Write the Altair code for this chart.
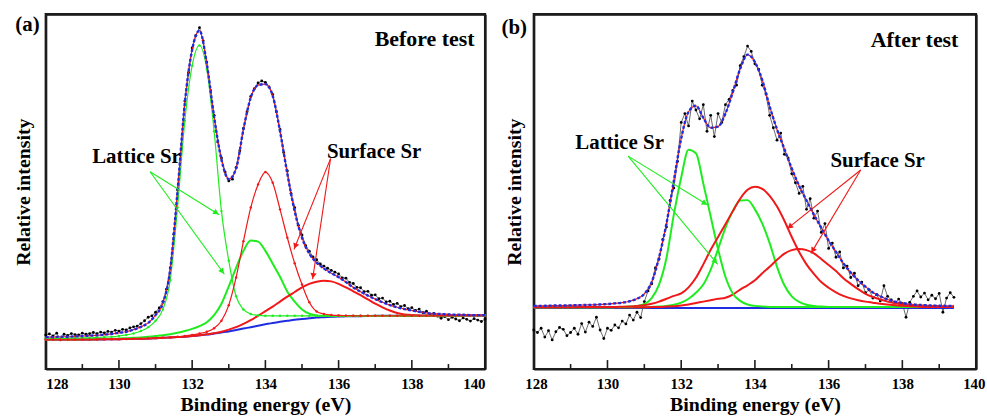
import math
import altair as alt
import pandas as pd

FONT = "Liberation Serif"
BLUE = "#1f2de0"
RED = "#f01818"
GREEN = "#1fec1f"
INK = "#1c1c1c"

# ---------------- panel (a): Before test ----------------
E_A = [128.0, 128.2, 128.4, 128.6, 128.8, 129.0, 129.2, 129.4, 129.6, 129.8,
       130.0, 130.2, 130.4, 130.6, 130.8, 131.0, 131.2, 131.4, 131.6, 131.8,
       132.0, 132.2, 132.4, 132.6, 132.8, 133.0, 133.2, 133.4, 133.6, 133.8,
       134.0, 134.2, 134.4, 134.6, 134.8, 135.0, 135.2, 135.4, 135.6, 135.8,
       136.0, 136.2, 136.4, 136.6, 136.8, 137.0, 137.2, 137.4, 137.6, 137.8,
       138.0, 138.2, 138.4, 138.6, 138.8, 139.0, 139.2, 139.4, 139.6, 139.8,
       140.0]
BASE_A = [8.3, 8.3, 8.3, 8.3, 8.3, 8.3, 8.3, 8.3, 8.35, 8.4,
          8.4, 8.45, 8.5, 8.55, 8.6, 8.7, 8.8, 8.9, 9.0, 9.1,
          9.3, 9.5, 9.7, 10.0, 10.3, 10.6, 11.0, 11.4, 11.8, 12.2,
          12.6, 13.0, 13.3, 13.6, 13.9, 14.1, 14.3, 14.5, 14.6, 14.7,
          14.8, 14.85, 14.9, 14.9, 14.95, 15.0, 15.0, 15.0, 15.0, 15.0,
          15.0, 15.0, 15.05, 15.05, 15.05, 15.05, 15.1, 15.1, 15.1, 15.1,
          15.1]
ENV_A = [9.0, 9.0, 9.1, 9.1, 9.2, 9.3, 9.4, 9.5, 9.7, 9.9,
         10.2, 10.5, 11.1, 11.9, 13.0, 15.2, 18.5, 28.0, 50.0, 75.0,
         90.0, 95.4, 86.0, 71.0, 59.0, 53.5, 56.5, 67.5, 76.5, 80.0,
         80.3, 77.0, 67.0, 55.0, 44.5, 37.0, 32.5, 30.0, 28.3, 27.0,
         25.9, 24.5, 23.0, 21.8, 20.7, 19.7, 18.8, 18.0, 17.4, 16.9,
         16.5, 16.1, 15.8, 15.6, 15.5, 15.4, 15.3, 15.3, 15.2, 15.2,
         15.2]
LAT1_A = [8.6, 8.6, 8.6, 8.7, 8.7, 8.8, 8.8, 8.9, 9.0, 9.1,
          9.3, 9.6, 10.0, 10.7, 11.8, 13.6, 16.8, 25.0, 45.5, 70.0,
          85.5, 91.2, 84.5, 67.0, 44.5, 30.5, 20.5, 16.8, 15.5, 15.1,
          15.0, 15.0, 15.0, 15.0, 15.0, 15.0, 15.0, 15.0, 15.0, 15.0,
          15.0, 15.0, 15.0, 15.0, 15.0, 15.0, 15.0, 15.0, 15.0, 15.0,
          15.0, 15.0, 15.0, 15.0, 15.05, 15.05, 15.05, 15.1, 15.1, 15.1,
          15.1]
LAT2_A = [8.3, 8.3, 8.3, 8.3, 8.3, 8.4, 8.4, 8.4, 8.5, 8.5,
          8.6, 8.7, 8.8, 8.9, 9.1, 9.3, 9.5, 9.8, 10.2, 10.7,
          11.3, 12.1, 13.2, 15.2, 18.4, 23.3, 28.5, 33.3, 36.2, 35.9,
          33.3, 29.7, 26.0, 21.8, 19.0, 16.8, 15.6, 15.1, 15.0, 14.95,
          14.95, 14.95, 14.95, 14.95, 14.95, 14.95, 14.95, 14.95, 14.95, 14.95,
          14.95, 14.95, 15.0, 15.0, 15.0, 15.0, 15.0, 15.05, 15.05, 15.05,
          15.05]
SUR1_A = [8.3, 8.3, 8.3, 8.3, 8.3, 8.3, 8.3, 8.35, 8.35, 8.4,
          8.4, 8.45, 8.5, 8.55, 8.6, 8.7, 8.8, 8.9, 9.1, 9.3,
          9.6, 10.0, 10.5, 11.5, 13.6, 18.0, 25.8, 36.0, 45.5, 52.0,
          55.5, 52.5, 45.0, 37.0, 29.8, 23.8, 18.8, 16.2, 15.5, 15.2,
          15.1, 15.05, 15.0, 15.0, 15.0, 15.0, 15.0, 15.0, 15.0, 15.0,
          15.0, 15.0, 15.0, 15.0, 15.05, 15.05, 15.05, 15.1, 15.1, 15.1,
          15.1]
SUR2_A = [8.3, 8.3, 8.3, 8.3, 8.3, 8.3, 8.35, 8.35, 8.4, 8.4,
          8.4, 8.45, 8.5, 8.55, 8.6, 8.7, 8.8, 8.9, 9.0, 9.1,
          9.3, 9.5, 9.8, 10.1, 10.5, 11.1, 11.8, 12.7, 13.8, 15.0,
          16.3, 17.6, 19.0, 20.4, 21.7, 23.0, 24.0, 24.6, 24.9, 24.7,
          24.0, 23.0, 21.9, 20.8, 19.6, 18.4, 17.4, 16.5, 15.8, 15.4,
          15.2, 15.1, 15.1, 15.1, 15.1, 15.1, 15.1, 15.1, 15.1, 15.1,
          15.1]
E_A_PTS = [128.0, 128.1, 128.2, 128.3, 128.4, 128.5, 128.6, 128.7, 128.8, 128.9,
           129.0, 129.1, 129.2, 129.3, 129.4, 129.5, 129.6, 129.7, 129.8, 129.9,
           130.0, 130.1, 130.2, 130.3, 130.4, 130.5, 130.6, 130.7, 130.8, 130.9,
           131.0, 131.1, 131.2, 131.3, 131.4, 131.5, 131.6, 131.7, 131.8, 131.9,
           132.0, 132.1, 132.2, 132.3, 132.4, 132.5, 132.6, 132.7, 132.8, 132.9,
           133.0, 133.1, 133.2, 133.3, 133.4, 133.5, 133.6, 133.7, 133.8, 133.9,
           134.0, 134.1, 134.2, 134.3, 134.4, 134.5, 134.6, 134.7, 134.8, 134.9,
           135.0, 135.1, 135.2, 135.3, 135.4, 135.5, 135.6, 135.7, 135.8, 135.9,
           136.0, 136.1, 136.2, 136.3, 136.4, 136.5, 136.6, 136.7, 136.8, 136.9,
           137.0, 137.1, 137.2, 137.3, 137.4, 137.5, 137.6, 137.7, 137.8, 137.9,
           138.0, 138.1, 138.2, 138.3, 138.4, 138.5, 138.6, 138.7, 138.8, 138.9,
           139.0, 139.1, 139.2, 139.3, 139.4, 139.5, 139.6, 139.7, 139.8, 139.9,
           140.0]
DATA_A = [9.6, 9.9, 9.3, 10.1, 8.2, 9.8, 9.5, 10.0, 9.7, 9.6,
          10.1, 9.8, 10.0, 10.3, 10.0, 10.4, 10.2, 10.6, 10.4, 10.9,
          10.7, 11.2, 11.0, 11.6, 11.9, 12.1, 12.8, 13.6, 14.6, 15.0,
          16.0, 17.2, 19.0, 22.5, 28.5, 38.0, 50.5, 62.0, 75.5, 83.5,
          90.5, 94.0, 96.2, 92.5, 86.5, 78.5, 71.5, 64.0, 59.5, 55.5,
          53.0, 53.5, 56.8, 61.5, 67.8, 72.5, 76.8, 79.0, 80.6, 81.2,
          80.8, 79.5, 77.4, 72.5, 67.5, 61.0, 55.8, 49.5, 45.5, 40.5,
          37.8, 34.8, 33.2, 31.6, 30.8, 29.6, 29.0, 28.4, 27.8, 27.3,
          26.8, 25.7, 25.6, 24.4, 24.1, 23.0, 22.9, 21.8, 21.9, 20.8,
          20.9, 19.8, 20.0, 18.9, 19.1, 18.2, 18.5, 17.6, 17.9, 17.0,
          17.3, 16.5, 16.9, 15.9, 16.3, 15.4, 15.7, 14.9, 14.3, 14.8,
          13.9, 14.6, 14.1, 13.6, 14.4, 14.0, 13.5, 14.2, 13.8, 13.4,
          14.1]

# ---------------- panel (b): After test ----------------
E_B = [128.0, 128.2, 128.4, 128.6, 128.8, 129.0, 129.2, 129.4, 129.6, 129.8,
       130.0, 130.2, 130.4, 130.6, 130.8, 131.0, 131.2, 131.4, 131.6, 131.8,
       132.0, 132.2, 132.4, 132.6, 132.8, 133.0, 133.2, 133.4, 133.6, 133.8,
       134.0, 134.2, 134.4, 134.6, 134.8, 135.0, 135.2, 135.4, 135.6, 135.8,
       136.0, 136.2, 136.4, 136.6, 136.8, 137.0, 137.2, 137.4, 137.6, 137.8,
       138.0, 138.2, 138.4, 138.6, 138.8, 139.0, 139.2, 139.4]
BASE_B_E = [128.0, 139.4]
BASE_B = [17.2, 17.2]
ENV_B = [17.8, 17.8, 17.85, 17.9, 17.9, 17.95, 18.0, 18.05, 18.1, 18.2,
         18.3, 18.5, 18.7, 19.1, 19.8, 21.2, 24.5, 31.5, 41.0, 53.0,
         65.0, 72.5, 74.2, 70.8, 68.0, 68.3, 72.0, 78.0, 84.6, 88.6,
         86.5, 81.4, 74.0, 67.5, 62.0, 56.5, 51.6, 47.5, 43.5, 39.8,
         36.2, 33.0, 29.8, 27.2, 25.0, 23.2, 21.6, 20.5, 19.6, 19.0,
         18.6, 18.3, 18.1, 18.0, 17.9, 17.85, 17.8, 17.8]
LAT1_B = [17.4, 17.4, 17.4, 17.4, 17.4, 17.4, 17.4, 17.4, 17.4, 17.4,
          17.4, 17.45, 17.5, 17.6, 17.8, 18.3, 20.0, 23.8, 31.3, 43.5,
          54.0, 61.8, 60.8, 52.3, 43.0, 33.8, 26.0, 21.3, 19.2, 18.2,
          17.8, 17.6, 17.5, 17.5, 17.5, 17.5, 17.5, 17.5, 17.5, 17.5,
          17.5, 17.5, 17.5, 17.5, 17.5, 17.5, 17.5, 17.5, 17.5, 17.5,
          17.5, 17.5, 17.5, 17.5, 17.5, 17.5, 17.5, 17.5]
LAT2_B = [17.4, 17.4, 17.4, 17.4, 17.4, 17.4, 17.4, 17.4, 17.4, 17.4,
          17.4, 17.4, 17.4, 17.4, 17.4, 17.4, 17.5, 17.6, 17.8, 18.1,
          18.7, 19.8, 21.5, 23.8, 28.0, 33.8, 39.8, 44.5, 47.5, 47.6,
          45.0, 41.0, 35.5, 28.8, 23.6, 20.5, 18.9, 18.1, 17.8, 17.6,
          17.5, 17.5, 17.5, 17.5, 17.5, 17.5, 17.5, 17.5, 17.5, 17.5,
          17.5, 17.5, 17.5, 17.5, 17.5, 17.5, 17.5, 17.5]
SUR1_B = [17.4, 17.4, 17.4, 17.4, 17.4, 17.4, 17.45, 17.45, 17.45, 17.5,
          17.5, 17.5, 17.55, 17.6, 17.8, 18.0, 18.4, 19.0, 19.8, 20.6,
          21.3, 23.0, 25.7, 29.5, 33.6, 37.2, 40.8, 44.5, 48.0, 50.5,
          51.4, 50.8, 48.8, 45.8, 41.8, 37.2, 33.0, 29.5, 26.8, 24.5,
          22.9, 21.6, 20.6, 19.9, 19.4, 19.0, 18.7, 18.4, 18.2, 18.0,
          17.8, 17.7, 17.6, 17.5, 17.5, 17.5, 17.5, 17.5]
SUR2_B = [17.4, 17.4, 17.4, 17.4, 17.4, 17.4, 17.4, 17.4, 17.4, 17.4,
          17.4, 17.4, 17.4, 17.4, 17.4, 17.4, 17.45, 17.5, 17.6, 17.7,
          17.9, 18.2, 18.6, 19.0, 19.4, 19.8, 20.1, 21.0, 22.4, 23.6,
          25.0, 27.0, 28.8, 30.8, 32.5, 33.5, 33.8, 33.5, 32.6, 31.0,
          29.3, 27.6, 25.6, 24.0, 22.5, 21.2, 20.3, 19.6, 19.0, 18.5,
          18.2, 18.0, 17.8, 17.7, 17.6, 17.55, 17.5, 17.5]
E_B_PTS = [128.0, 128.1, 128.2, 128.3, 128.4, 128.5, 128.6, 128.7, 128.8, 128.9,
           129.0, 129.1, 129.2, 129.3, 129.4, 129.5, 129.6, 129.7, 129.8, 129.9,
           130.0, 130.1, 130.2, 130.3, 130.4, 130.5, 130.6, 130.7, 130.8, 130.9,
           131.0, 131.1, 131.2, 131.3, 131.4, 131.5, 131.6, 131.7, 131.8, 131.9,
           132.0, 132.1, 132.2, 132.3, 132.4, 132.5, 132.6, 132.7, 132.8, 132.9,
           133.0, 133.1, 133.2, 133.3, 133.4, 133.5, 133.6, 133.7, 133.8, 133.9,
           134.0, 134.1, 134.2, 134.3, 134.4, 134.5, 134.6, 134.7, 134.8, 134.9,
           135.0, 135.1, 135.2, 135.3, 135.4, 135.5, 135.6, 135.7, 135.8, 135.9,
           136.0, 136.1, 136.2, 136.3, 136.4, 136.5, 136.6, 136.7, 136.8, 136.9,
           137.0, 137.1, 137.2, 137.3, 137.4, 137.5, 137.6, 137.7, 137.8, 137.9,
           138.0, 138.1, 138.2, 138.3, 138.4, 138.5, 138.6, 138.7, 138.8, 138.9,
           139.0, 139.1, 139.2, 139.3, 139.4]
DATA_B = [11.0, 10.3, 11.5, 9.0, 10.8, 8.2, 10.5, 11.7, 11.2, 9.4,
          10.3, 11.5, 9.8, 12.8, 10.4, 13.2, 12.0, 14.6, 11.0, 8.6,
          11.5, 10.9, 12.4, 11.6, 13.5, 12.7, 15.2, 13.8, 16.0, 14.5,
          19.0, 22.0, 24.0, 28.5, 31.0, 36.5, 40.0, 47.5, 51.0, 58.5,
          69.5, 72.0, 68.5, 75.5, 73.0, 70.5, 74.5, 67.0, 71.5, 65.5,
          72.0, 69.5, 74.5, 76.0, 78.5, 80.0, 85.5, 88.0, 91.0, 89.5,
          86.0, 84.5, 80.0, 77.5, 71.5, 68.0, 64.5, 66.5, 60.5, 59.5,
          55.0, 52.5, 49.5, 51.5, 45.0, 48.0, 42.5, 44.5, 38.5, 41.0,
          34.0, 35.5, 31.5, 33.0, 28.5, 29.0, 25.8, 27.0, 23.5, 24.5,
          21.5, 22.3, 20.0, 21.0, 19.2, 23.5, 20.5, 19.5, 18.6, 19.7,
          18.5, 14.6, 18.8, 20.5, 22.0, 20.3, 21.4, 19.5, 20.8, 19.8,
          21.3, 16.0, 20.0, 21.5, 20.2]

# ---------------- annotations (data coordinates) ----------------
ARROWS_A_LAT = [(130.85, 55.6, 132.74, 43.5), (130.85, 55.6, 132.88, 26.7)]
ARROWS_A_SUR = [(135.78, 59.3, 134.78, 33.7), (135.78, 59.3, 135.29, 25.3)]
ARROWS_B_LAT = [(130.56, 60.0, 132.72, 46.2), (130.56, 60.0, 132.99, 29.5)]
ARROWS_B_SUR = [(136.87, 56.1, 134.87, 39.5), (136.87, 56.1, 135.52, 32.6)]
LABELS_A = [("Lattice Sr", 130.48, 59.8), ("Surface Sr", 136.97, 61.2), ("(a)", 127.5, 96.9)]
LABELS_B = [("Lattice Sr", 130.33, 63.6), ("Surface Sr", 137.33, 58.6), ("(b)", 127.47, 96.0)]
CORNER_A = ("Before test", 139.71, 93.0)
CORNER_B = ("After test", 139.52, 92.8)
MAJOR_TICKS = [128, 130, 132, 134, 136, 138, 140]
MINOR_TICKS = [129, 131, 133, 135, 137, 139]
X_DOMAIN = [128.0, 140.0]
Y_DOMAIN = [0.0, 100.0]


def make_panel(W, H, title_pad, e_pts, data, E, env, lat1, lat2, sur1, sur2,
               base_e, base, arr_lat, arr_sur, labels, corner, dotted_first, flush):
    sx = alt.Scale(domain=X_DOMAIN, nice=False, zero=False)
    sy = alt.Scale(domain=Y_DOMAIN, nice=False, zero=False)
    axis_kw = dict(values=MAJOR_TICKS, format="d", title="Binding energy (eV)",
                   ticks=False, tickSize=0, domain=True, domainColor=INK, domainWidth=2.2,
                   grid=False, labelPadding=8, titlePadding=3)
    if flush:
        axis_kw.update(labelFlush=True, labelFlushOffset=9)
    # axes carried by one layer only: bottom/left (with texts) and top/right (frame lines)
    X_main = alt.X("E:Q", scale=sx, axis=alt.Axis(**axis_kw))
    Y_main = alt.Y("v:Q", scale=sy,
                   axis=alt.Axis(labels=False, ticks=False, domain=True, domainColor=INK,
                                 domainWidth=2.2, grid=False,
                                 title="Relative intensity", titlePadding=title_pad))
    X_top = alt.X("E:Q", scale=sx,
                  axis=alt.Axis(orient="top", labels=False, ticks=False, domain=True,
                                domainColor=INK, domainWidth=2.2, grid=False, title=""))
    Y_right = alt.Y("v:Q", scale=sy,
                    axis=alt.Axis(orient="right", labels=False, ticks=False, domain=True,
                                  domainColor=INK, domainWidth=2.2, grid=False, title=""))
    X = alt.X("E:Q", scale=sx, axis=None)
    Y = alt.Y("v:Q", scale=sy, axis=None)

    def curve(vals, color, width, dash=None, ee=None):
        df = pd.DataFrame({"E": ee if ee is not None else E, "v": vals})
        kw = dict(color=color, strokeWidth=width, interpolate="monotone")
        if dash:
            kw["strokeDash"] = dash
        return alt.Chart(df).mark_line(**kw).encode(x=X, y=Y)

    def curve_pts(vals, color):
        df = pd.DataFrame({"E": E, "v": vals})
        return alt.Chart(df).mark_circle(color=color, size=6, opacity=1).encode(x=X, y=Y)

    # inward ticks as thin filled bars (pixel sizes converted to data units)
    px = 12.0 / W
    pv = 100.0 / H
    bands = []
    for t in MAJOR_TICKS[1:-1]:
        bands.append({"E": t - 0.8 * px, "E2": t + 0.8 * px, "v": 0.0, "v2": 9 * pv})
    for t in MINOR_TICKS:
        bands.append({"E": t - 0.8 * px, "E2": t + 0.8 * px, "v": 0.0, "v2": 5 * pv})
    layers = [
        alt.Chart(pd.DataFrame(bands)).mark_rect(color=INK, opacity=1)
        .encode(x=X_main, x2="E2:Q", y=Y_main, y2="v2:Q"),
        alt.Chart(pd.DataFrame({"E": [X_DOMAIN[0]], "v": [Y_DOMAIN[0]]}))
        .mark_point(opacity=0).encode(x=X_top, y=Y_right),
    ]

    ddf = pd.DataFrame({"E": e_pts, "v": data})
    layers += [
        alt.Chart(ddf).mark_line(color="#444444", strokeWidth=0.8).encode(x=X, y=Y),
        alt.Chart(ddf).mark_circle(color="black", size=8, opacity=1).encode(x=X, y=Y),
        curve(base, BLUE, 2, ee=base_e),
        curve(lat2, GREEN, 2),
        curve(sur2, RED, 2),
    ]
    if dotted_first:
        layers += [curve(lat1, GREEN, 1.2), curve_pts(lat1, GREEN),
                   curve(sur1, RED, 1.2), curve_pts(sur1, RED)]
    else:
        layers += [curve(lat1, GREEN, 2), curve(sur1, RED, 2)]
    layers += [curve(env, RED, 1.2), curve(env, BLUE, 2.4, dash=[3, 2])]

    for arrs, color in ((arr_lat, GREEN), (arr_sur, RED)):
        rows, heads = [], []
        for es, vs, ee, ve in arrs:
            rows.append({"E": es, "v": vs, "E2": ee, "v2": ve})
            dx = (ee - es) * W / 12.0
            dy = -(ve - vs) * H / 100.0
            L = math.hypot(dx, dy)
            ux, uy = dx / L, dy / L
            ang = math.degrees(math.atan2(dx, -dy)) % 360
            back = 3.5
            heads.append({"E": ee - ux * back * 12.0 / W,
                          "v": ve + uy * back * 100.0 / H, "ang": ang})
        layers.append(alt.Chart(pd.DataFrame(rows)).mark_rule(color=color, strokeWidth=1.1)
                      .encode(x=X, y=Y, x2="E2:Q", y2="v2:Q"))
        layers.append(alt.Chart(pd.DataFrame(heads))
                      .mark_point(shape="triangle-up", filled=True, size=40, color=color, opacity=1)
                      .encode(x=X, y=Y, angle=alt.Angle("ang:Q", scale=None)))

    ldf = pd.DataFrame([{"t": t, "E": e, "v": v} for t, e, v in labels])
    layers.append(alt.Chart(ldf).mark_text(font=FONT, fontSize=21, fontWeight="bold",
                                           color="black", align="center", baseline="middle")
                  .encode(x=X, y=Y, text="t:N"))
    cdf = pd.DataFrame([{"t": corner[0], "E": corner[1], "v": corner[2]}])
    layers.append(alt.Chart(cdf).mark_text(font=FONT, fontSize=22, fontWeight="bold",
                                           color="black", align="right", baseline="middle")
                  .encode(x=X, y=Y, text="t:N"))
    return (alt.layer(*layers)
            .resolve_axis(x="independent", y="independent")
            .properties(width=W, height=H))


pa = make_panel(442, 357, 12, E_A_PTS, DATA_A, E_A, ENV_A, LAT1_A, LAT2_A, SUR1_A, SUR2_A,
                E_A, BASE_A, ARROWS_A_LAT, ARROWS_A_SUR, LABELS_A, CORNER_A, True, False)
pb = make_panel(445, 357, 9, E_B_PTS, DATA_B, E_B, ENV_B, LAT1_B, LAT2_B, SUR1_B, SUR2_B,
                BASE_B_E, BASE_B, ARROWS_B_LAT, ARROWS_B_SUR, LABELS_B, CORNER_B, False, True)

chart = alt.hconcat(pa, pb, spacing=49, bounds="flush").properties(
    padding={"left": 12, "top": 11, "right": 0, "bottom": 0}, background="white"
).configure_view(stroke=INK, strokeWidth=2.2).configure_axis(
    labelFont=FONT, labelFontSize=15, labelFontWeight="bold", labelColor="black",
    titleFont=FONT, titleFontSize=20, titleFontWeight="bold", titleColor="black"
)

chart.save("out.html", embed_options={"renderer": "svg", "actions": False})
